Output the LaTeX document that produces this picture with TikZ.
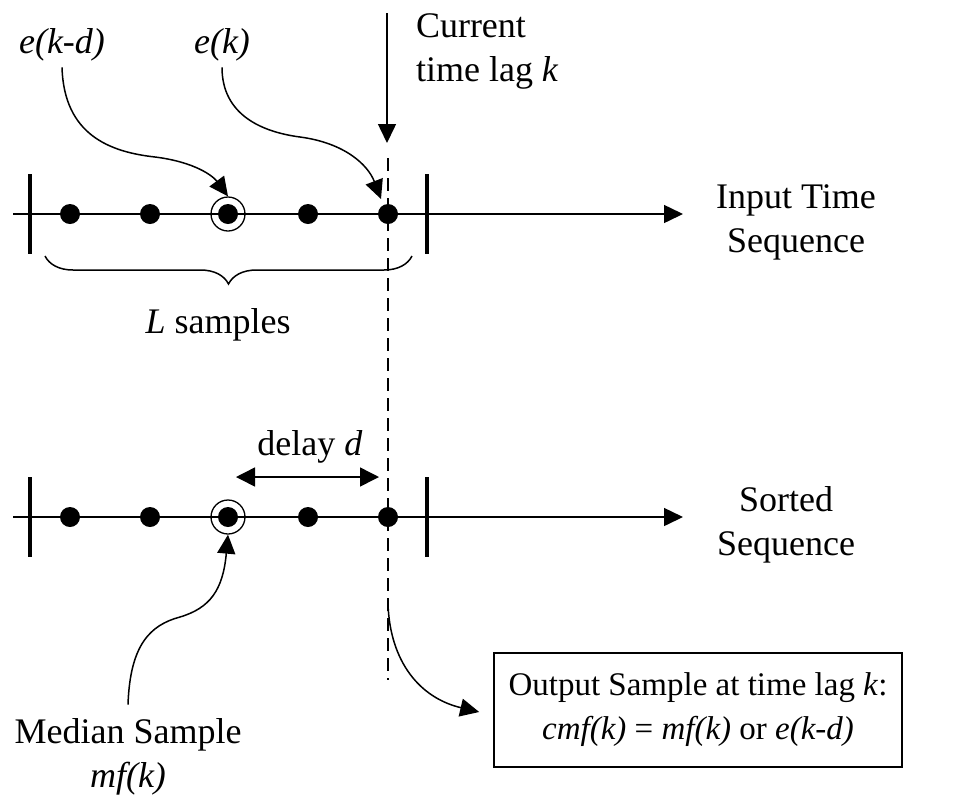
\documentclass[tikz,border=0pt]{standalone}
\usepackage{fontspec}
\setmainfont{Liberation Serif}
\usetikzlibrary{arrows.meta,decorations.pathreplacing}
\begin{document}
\begin{tikzpicture}[x=1pt,y=-1pt, line width=1.5pt,
 tip/.style={-{Triangle[length=19pt,width=18pt]}},
 dtip/.style={{Triangle[length=19pt,width=19pt]}-{Triangle[length=19pt,width=19pt]}},
 dot/.style={circle,fill,inner sep=0,minimum size=20pt},
 ring/.style={circle,draw,inner sep=0,minimum size=34pt,line width=1.3pt},
 lbl/.style={font=\fontsize{36}{44}\selectfont,inner sep=0,outer sep=0,align=center},
 bar/.style={line width=4pt},
 dashline/.style={line width=1.3pt,dash pattern=on 13pt off 7pt},
 outbox/.style={draw,line width=1.6pt,minimum width=408pt,minimum height=114pt,
   inner sep=0,align=center,font=\fontsize{33}{44}\selectfont}]
\useasboundingbox (0,0) rectangle (963,796);

% ---- top axis ----
\coordinate (a1s) at (13,214);
\coordinate (a1e) at (683,214);
\draw[tip] (a1s) -- (a1e);
\draw[bar] (30,174) -- (30,254);
\draw[bar] (427,174) -- (427,254);
\node[ring] (r1) at (228,214) {};
\foreach \x in {70,150,228,308,388} \node[dot] (t\x) at (\x,214) {};

% ---- bottom axis ----
\coordinate (a2s) at (13,517);
\coordinate (a2e) at (683,517);
\draw[tip] (a2s) -- (a2e);
\draw[bar] (30,477) -- (30,557);
\draw[bar] (427,477) -- (427,557);
\node[ring] (r2) at (228,517) {};
\foreach \x in {70,150,228,308,388} \node[dot] (b\x) at (\x,517) {};

% ---- dashed current time line ----
\coordinate (dtop) at (388,158);
\coordinate (dbot) at (388,680);
\draw[dashline] (dtop) -- (dbot);

% ---- current time lag ----
\coordinate (curS) at (387,13);
\coordinate (curE) at (387,143);
\draw[tip] (curS) -- (curE);
\node[lbl,anchor=north west,align=left] (cur) at (416,14) {Current\\time lag \textit{k}};

% ---- labels e(k-d), e(k) ----
\node[lbl] (ekd) at (62,45) {\textit{e(k-d)}};
\node[lbl] (ek) at (222,45) {\textit{e(k)}};
\draw[tip] ([yshift=-6pt]ekd.south) .. controls (64,135) and (110,152) .. (155,157)
   .. controls (195,162) and (213,176) .. (r1.north);
\coordinate (ekT) at (381,199);
\draw[tip] ([yshift=-6pt]ek.south) .. controls (222,115) and (262,132) .. (300,137)
   .. controls (345,143) and (368,165) .. (ekT);

% ---- brace ----
\coordinate (brL) at (45,256);
\coordinate (brR) at (412,256);
\draw[decorate,decoration={brace,mirror,amplitude=28pt},line width=1.5pt] (brL) -- (brR);
\node[lbl] (Ls) at (218,325) {\textit{L} samples};

\node[lbl] (inseq) at (796,222) {Input Time\\Sequence};
\node[lbl] (sorted) at (786,525) {Sorted\\Sequence};

% ---- delay d ----
\coordinate (dL) at (236,477);
\coordinate (dR) at (379,477);
\draw[dtip] (dL) -- (dR);
\node[lbl] (delay) at (310,447) {delay \textit{d}};

% ---- median ----
\node[lbl] (med) at (128,757) {Median Sample\\\textit{mf(k)}};
\draw[tip] ([yshift=14pt]med.north) .. controls (130,645) and (150,625) .. (180,617)
   .. controls (210,608) and (223,590) .. (r2.south);

% ---- output ----
\node[outbox] (out) at (698,710) {Output Sample at time lag \textit{k}:\\\textit{cmf(k)} = \textit{mf(k)} or \textit{e(k-d)}};
\coordinate (oS) at (388,604);
\draw[tip] (oS) .. controls (390,662) and (420,698) .. ([xshift=-14pt,yshift=-2pt]out.west);
\end{tikzpicture}
\end{document}
